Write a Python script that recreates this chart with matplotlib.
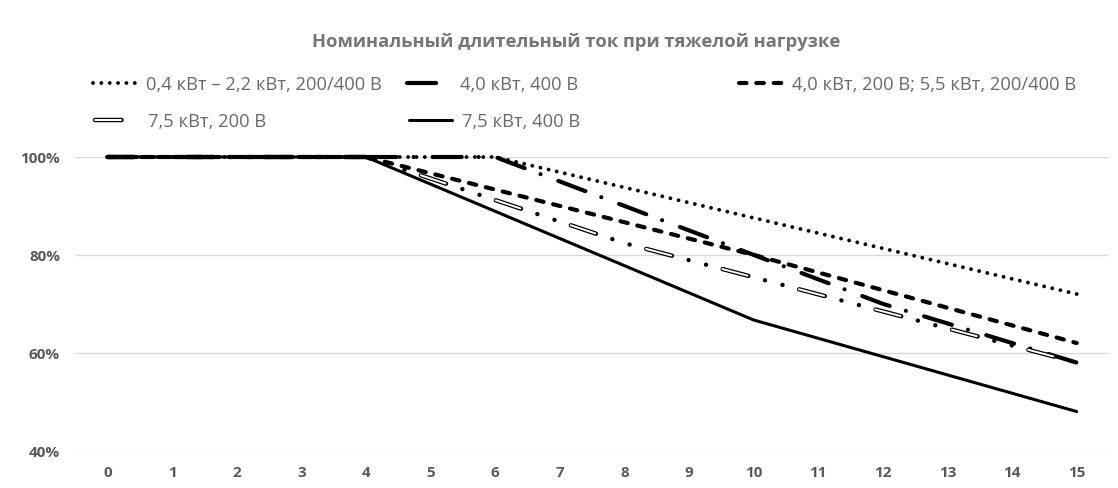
import matplotlib
matplotlib.use("Agg")
import matplotlib.pyplot as plt
from matplotlib.legend_handler import HandlerTuple
from matplotlib.ticker import FixedLocator

plt.rcParams['font.family'] = ['Open Sans', 'DejaVu Sans']
plt.rcParams['lines.scale_dashes'] = False

# ---- data ----
title = "Номинальный длительный ток при тяжелой нагрузке"
x_ticks = list(range(0, 16))
y_ticks = [40, 60, 80, 100]
y_ticklabels = ["40%", "60%", "80%", "100%"]

labels = ["0,4 кВт – 2,2 кВт, 200/400 В", "4,0 кВт, 400 В",
          "4,0 кВт, 200 В; 5,5 кВт, 200/400 В", "7,5 кВт, 200 В", "7,5 кВт, 400 В"]

x_s1 = [0, 6, 15]
y_s1 = [100, 100, 72]
x_s2 = [0, 6, 12, 15]
y_s2 = [100, 100, 70, 58]
x_s3 = [0, 4, 10, 15]
y_s3 = [100, 100, 80, 62]
x_s4 = [0, 4, 8, 15]
y_s4 = [100, 100, 82.4, 58]
x_s5 = [0, 4, 10, 15]
y_s5 = [100, 100, 66.7, 48]

W, H = 1118, 489
fig = plt.figure(figsize=(W / 100, H / 100), dpi=100)
ax = fig.add_axes([75.3 / W, 1 - 451.7 / H, (1109 - 75.3) / W, (451.7 - 158) / H])

ax.set_xlim(-0.5, 15.5)
ax.set_ylim(40, 100)
for s in ax.spines.values():
    s.set_visible(False)
ax.yaxis.set_major_locator(FixedLocator(y_ticks))
ax.set_yticklabels(y_ticklabels)
ax.set_xticks(x_ticks)
ax.set_xticklabels([str(v) for v in x_ticks])
ax.tick_params(axis='both', length=0, labelsize=11, labelcolor='#595959')
ax.tick_params(axis='y', pad=11)
ax.tick_params(axis='x', pad=10)
for lab in ax.get_xticklabels() + ax.get_yticklabels():
    lab.set_fontweight('bold')
ax.grid(axis='y', color='#d9d9d9', linewidth=1.0)
ax.set_axisbelow(True)

# series 1: dotted
l1, = ax.plot(x_s1, y_s1, color='black', lw=2.8, solid_capstyle='round',
              dash_capstyle='round', linestyle=(0, (0.01, 6.0)), clip_on=False)
# series 2: thick long dash-dot
l2, = ax.plot(x_s2, y_s2, color='black', lw=3.0, dash_capstyle='round',
              linestyle=(0, (20.9, 12.2, 0.01, 13.7)), clip_on=False)
# series 3: dashed
l3, = ax.plot(x_s3, y_s3, color='black', lw=3.0, dash_capstyle='round',
              linestyle=(0, (5.4, 7.1)), clip_on=False)
# series 4: double line dash-dot-dot
pat_b = (0, (19.1, 12.4, 0.01, 13.0, 0.01, 12.4))
pat_w = (0, (18.7, 38.2))
l4b, = ax.plot(x_s4, y_s4, color='black', lw=3.2, dash_capstyle='round',
               linestyle=pat_b, clip_on=False)
l4w, = ax.plot(x_s4, y_s4, color='white', lw=1.4, dash_capstyle='round',
               linestyle=pat_w, clip_on=False)
# series 5: solid
l5, = ax.plot(x_s5, y_s5, color='black', lw=2.2, solid_capstyle='round', clip_on=False)

fig.text(576 / W, 1 - 42 / H, title, ha='center', va='center', fontsize=13.2,
         fontweight='bold', color='#767676')

handles = [l1, l2, l3, (l4b, l4w), l5]
fs = 13.2
fpx = fs * 100 / 72
hl_px = 43
pad_px = 10
text_pos = [(146, 85), (460, 85), (792, 85), (148, 122), (462, 122)]
for h, lab, (tx, py) in zip(handles, labels, text_pos):
    px = tx - hl_px - pad_px
    leg = fig.legend([h], [lab], loc='center left',
                     bbox_to_anchor=(px / W, 1 - py / H), frameon=False,
                     fontsize=fs, borderpad=0, borderaxespad=0,
                     handlelength=hl_px / fpx, handletextpad=pad_px / fpx,
                     handler_map={tuple: HandlerTuple(ndivide=1, pad=0)})
    for t in leg.get_texts():
        t.set_color('#6a6a6a')

fig.savefig("out.png", dpi=100)
